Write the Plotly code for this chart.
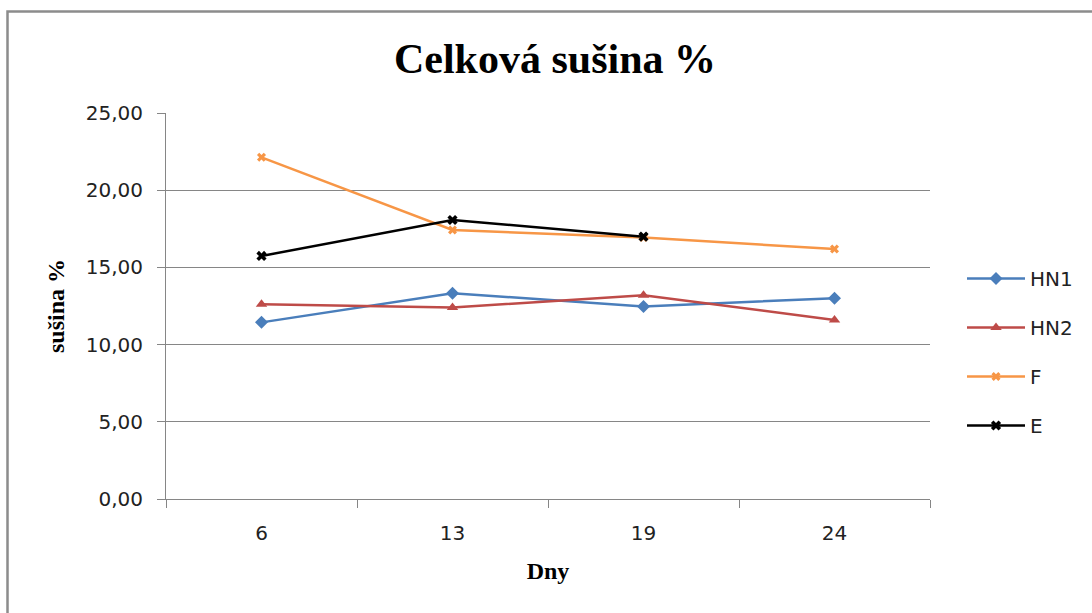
import plotly.graph_objects as go

days = ["6", "13", "19", "24"]
hn1 = [11.44, 13.33, 12.47, 13.01]
hn2 = [12.61, 12.41, 13.19, 11.60]
f_vals = [22.13, 17.42, 16.93, 16.19]
e_vals = [15.74, 18.07, 16.99]
y_ticks = [0, 5, 10, 15, 20, 25]

series = [
    ("HN1", hn1, "#4A7EBB", "diamond", 10),
    ("HN2", hn2, "#BE4B48", "triangle-up", 10),
    ("F", f_vals, "#F79646", "x", 8),
    ("E", e_vals, "#000000", "x", 9),
]

fig = go.Figure()
for name, vals, color, sym, sz in series:
    fig.add_trace(go.Scatter(
        x=days[:len(vals)], y=vals, name=name, mode="lines+markers",
        line=dict(color=color, width=2.5),
        marker=dict(symbol=sym, size=sz, color=color),
        legendgroup=name,
    ))

L, R, T, B = 166, 162, 113, 114
W, H = 1092, 613
pw, ph = W - L - R, H - T - B

fig.update_layout(
    width=W, height=H,
    margin=dict(l=L, r=R, t=T, b=B),
    paper_bgcolor="white", plot_bgcolor="white",
    separators=", ",
    title=dict(text="<b>Celková sušina %</b>", x=(555 - L) / pw, xref="paper", xanchor="center",
               y=1 - 58 / H, yanchor="middle",
               font=dict(family="Liberation Serif", size=42, color="black")),
    xaxis=dict(type="category", tickson="boundaries", ticks="outside", ticklen=8,
               tickcolor="#868686", showline=True, linecolor="#868686", linewidth=1,
               showgrid=False, range=[-0.5, 3.5], ticklabelstandoff=16,
               tickfont=dict(family="DejaVu Sans", size=20, color="#222"),
               title=dict(text="<b>Dny</b>", standoff=18,
                          font=dict(family="Liberation Serif", size=24, color="black"))),
    yaxis=dict(range=[0, 25], tickvals=y_ticks, tickformat=".2f", ticks="outside", ticklen=8,
               tickcolor="#868686", showline=True, linecolor="#868686", linewidth=1,
               showgrid=True, gridcolor="#868686", gridwidth=1, zeroline=False,
               ticklabelstandoff=10,
               tickfont=dict(family="DejaVu Sans", size=20, color="#222"),
               title=dict(text="<b>sušina %</b>", standoff=14,
                          font=dict(family="Liberation Serif", size=24, color="black"))),
    legend=dict(x=(962 - L) / pw, y=(499 - 352) / ph, xanchor="left", yanchor="middle",
                tracegroupgap=20, itemwidth=58,
                font=dict(family="DejaVu Sans", size=20, color="#222"),
                bgcolor="rgba(0,0,0,0)"),
    showlegend=True,
)

fig.add_shape(type="rect", xref="paper", yref="paper",
              x0=(7.5 - L) / pw, x1=(1100 - L) / pw,
              y0=(H - B - 630) / ph, y1=1 + (T - 11.5) / ph,
              line=dict(color="#8C8C8C", width=2.5), layer="below")

fig.write_html("out.html")
